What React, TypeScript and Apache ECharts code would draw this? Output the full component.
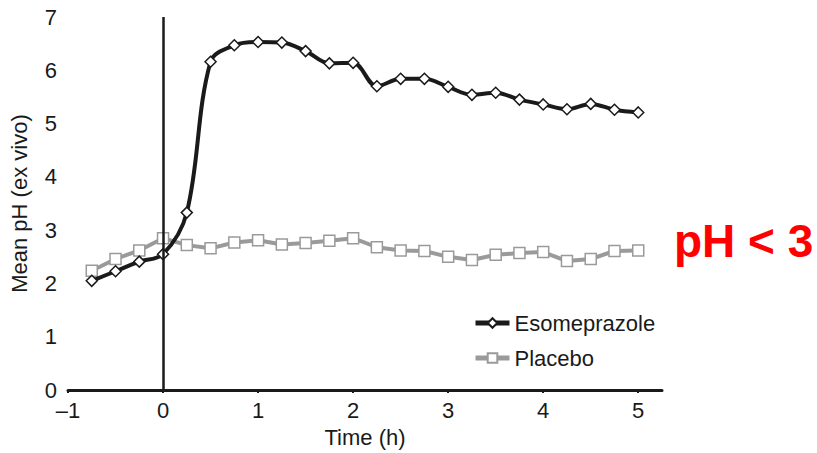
import React, { useEffect, useRef } from "react";
import * as echarts from "echarts";

const times = [-0.75, -0.5, -0.25, 0, 0.25, 0.5, 0.75, 1, 1.25, 1.5, 1.75, 2, 2.25, 2.5, 2.75, 3, 3.25, 3.5, 3.75, 4, 4.25, 4.5, 4.75, 5];
const esomeprazole = [2.05, 2.23, 2.41, 2.55, 3.33, 6.16, 6.47, 6.53, 6.52, 6.36, 6.13, 6.14, 5.7, 5.84, 5.84, 5.69, 5.54, 5.58, 5.45, 5.36, 5.27, 5.37, 5.26, 5.21];
const placebo = [2.24, 2.46, 2.62, 2.85, 2.72, 2.66, 2.77, 2.81, 2.73, 2.76, 2.8, 2.85, 2.68, 2.62, 2.61, 2.5, 2.44, 2.54, 2.57, 2.59, 2.42, 2.46, 2.61, 2.62];
const xTicks = [-1, 0, 1, 2, 3, 4, 5];
const annotation = "pH < 3";

const FONT = "'Liberation Sans', Arial, sans-serif";
const FS = 22;

export default function App() {
  const ref = useRef<HTMLDivElement>(null);
  useEffect(() => {
    if (!ref.current) return;
    const chart = echarts.init(ref.current, null, { renderer: "svg" });
    chart.setOption({
      animation: false,
      backgroundColor: "#ffffff",
      textStyle: { fontFamily: FONT },
      grid: { left: 68, right: 155, top: 17, bottom: 56 },
      xAxis: {
        type: "value",
        min: -1,
        max: 5.25,
        interval: 1,
        name: "Time (h)",
        nameLocation: "middle",
        nameGap: 32,
        nameTextStyle: { fontSize: FS, color: "#1a1a1a", fontFamily: FONT },
        axisLine: { onZero: false, lineStyle: { color: "#1a1a1a", width: 3 } },
        axisTick: { show: true, customValues: xTicks, length: 3, lineStyle: { color: "#1a1a1a", width: 2 } },
        axisLabel: {
          customValues: xTicks,
          fontSize: FS,
          color: "#1a1a1a",
          margin: 9,
          fontFamily: FONT,
          formatter: (v: number) => (v < 0 ? "\u2013" + Math.abs(v) : String(v)),
        },
        splitLine: { show: false },
      },
      yAxis: {
        type: "value",
        min: 0,
        max: 7,
        interval: 1,
        name: "Mean pH (ex vivo)",
        nameLocation: "middle",
        nameGap: 38,
        nameTextStyle: { fontSize: FS, color: "#1a1a1a", fontFamily: FONT },
        axisLine: { show: false },
        axisTick: { show: false },
        axisLabel: { fontSize: FS, color: "#1a1a1a", margin: 11, fontFamily: FONT },
        splitLine: { show: false },
      },
      legend: {
        orient: "vertical",
        left: 468,
        top: 307,
        itemWidth: 34,
        itemHeight: 12,
        itemGap: 13,
        textStyle: { fontSize: FS, color: "#1a1a1a", fontFamily: FONT },
        data: [
          { name: "Esomeprazole", lineStyle: { width: 5, color: "#1a1a1a" } },
          { name: "Placebo", lineStyle: { width: 5, color: "#9a9a9a" } },
        ],
      },
      graphic: [
        {
          type: "text",
          left: 674,
          top: 218,
          style: {
            text: annotation,
            fill: "#ff0000",
            font: "bold 46px 'Liberation Sans', Arial, sans-serif",
          },
        },
      ],
      series: [
        {
          name: "Placebo",
          type: "line",
          data: times.map((t, i) => [t, placebo[i]]),
          symbol: "rect",
          symbolSize: 11,
          itemStyle: { color: "#ffffff", borderColor: "#9a9a9a", borderWidth: 1.5 },
          lineStyle: { color: "#9a9a9a", width: 4 },
          z: 2,
        },
        {
          name: "Esomeprazole",
          type: "line",
          smooth: 0.35,
          data: times.map((t, i) => [t, esomeprazole[i]]),
          symbol: "diamond",
          symbolSize: 11,
          itemStyle: { color: "#ffffff", borderColor: "#1a1a1a", borderWidth: 1.5 },
          lineStyle: { color: "#1a1a1a", width: 4 },
          z: 3,
          markLine: {
            silent: true,
            symbol: "none",
            label: { show: false },
            lineStyle: { color: "#1a1a1a", width: 2.5, type: "solid" },
            data: [{ xAxis: 0 }],
          },
        },
      ],
    });
    return () => chart.dispose();
  }, []);
  return <div ref={ref} style={{ position: "fixed", left: 0, top: 0, width: 817, height: 453 }} />;
}
